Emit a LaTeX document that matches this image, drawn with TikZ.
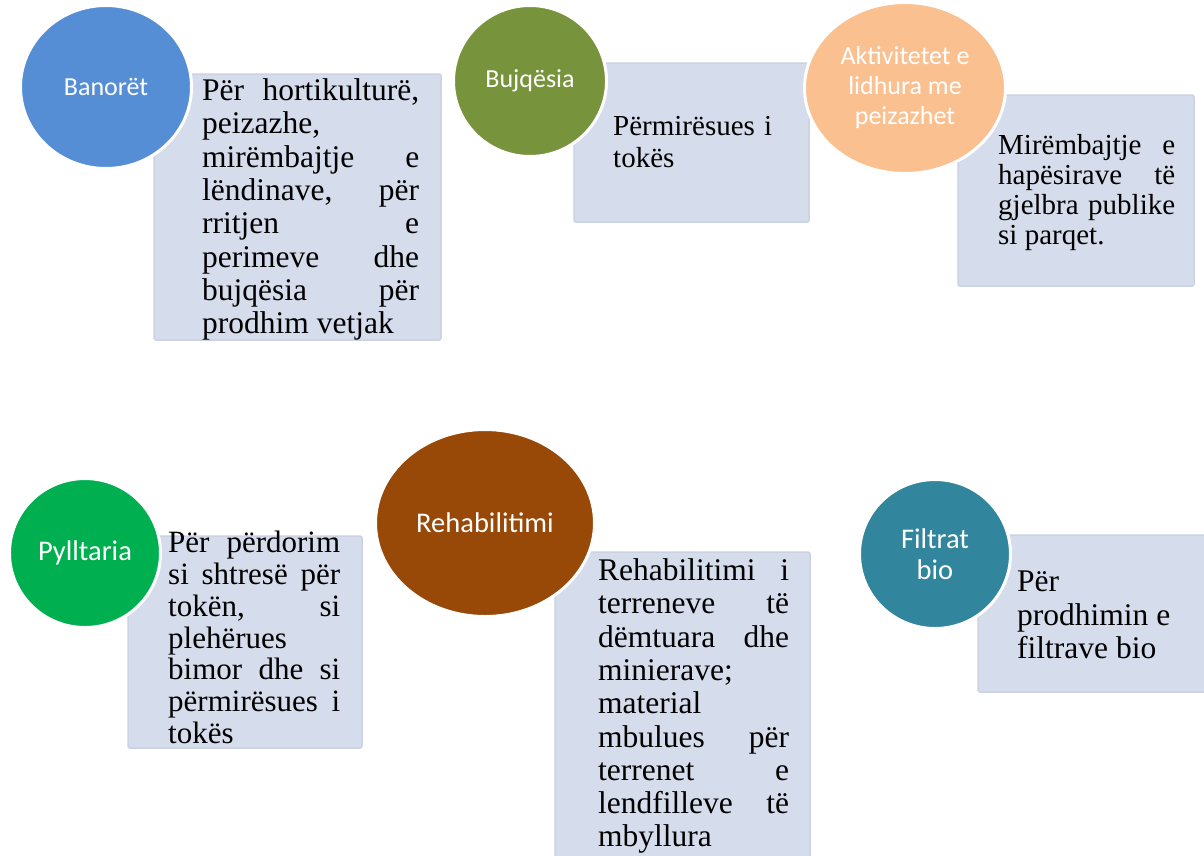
\documentclass[tikz,border=0pt]{standalone}
\usepackage{fontspec}
\setmainfont{Liberation Serif}
\newfontfamily\calib{Carlito}
\usepackage{tikz}
\usetikzlibrary{shapes.geometric}

\definecolor{banblue}{HTML}{558ED5}
\definecolor{bujgreen}{HTML}{77933C}
\definecolor{aktpeach}{HTML}{FAC090}
\definecolor{pylgreen}{HTML}{00B050}
\definecolor{rehbrown}{HTML}{984807}
\definecolor{filteal}{HTML}{31859C}
\definecolor{panelfill}{HTML}{D5DCEB}
\definecolor{paneledge}{HTML}{CAD2E4}

\newcommand{\jl}[1]{\makebox[\hsize][s]{\spaceskip=0pt\relax #1}}
\newcommand{\circfont}{\calib\fontsize{26}{30}\selectfont}
\newcommand{\circfontb}{\calib\fontsize{28.5}{31.5}\selectfont}
\newcommand{\txtfont}{\fontsize{31.5}{33.3}\selectfont}

\begin{document}
\begin{tikzpicture}[x=1pt,y=-1pt,
	sector/.style={ellipse,draw=white,line width=3pt,inner sep=0pt,text=white,align=center,font=\circfont},
	panel/.style={fill=panelfill,draw=paneledge,line width=1.5pt,rounded corners=2pt},
	desc/.style={anchor=north west,inner sep=0pt,align=justify,font=\txtfont}]
\useasboundingbox (0,0) rectangle (1204,855);

% panels behind the circles
\foreach \xa/\ya/\xb/\yb in {154/74/441/340, 574/63/809/222, 958/95/1194/286, 128/536/362/748, 555/552/810/870, 978/535/1215/692}
	\draw[panel] (\xa,\ya) rectangle (\xb,\yb);

\node[desc,text width=217] (horti) at (202,78.5) {\jl{Për hortikulturë,}\\ peizazhe,\\ \jl{mirëmbajtje e}\\ \jl{lëndinave, për}\\ \jl{rritjen e}\\ \jl{perimeve dhe}\\ \jl{bujqësia për}\\ prodhim vetjak};
\node[desc,text width=159,font={\fontsize{29}{32}\selectfont}] (permir) at (613,116) {\jl{Përmirësues i}\\ tokës};
\node[desc,text width=177,font={\fontsize{29}{30}\selectfont}] (mirem) at (998,134) {\jl{Mirëmbajtje e}\\ \jl{hapësirave të}\\ \jl{gjelbra publike}\\ si parqet.};
\node[desc,text width=172,font={\fontsize{31}{31.8}\selectfont}] (perdor) at (168,531) {\jl{Për përdorim}\\ \jl{si shtresë për}\\ \jl{tokën, si}\\ plehërues\\ \jl{bimor dhe si}\\ \jl{përmirësues i}\\ tokës};
\node[desc,text width=191] (rehab) at (598,558.5) {\jl{Rehabilitimi i}\\ \jl{terreneve të}\\ \jl{dëmtuara dhe}\\ minierave;\\ material\\ \jl{mbulues për}\\ \jl{terrenet e}\\ \jl{lendfilleve të}\\ mbyllura};
\node[desc,text width=160] (prodh) at (1017,571) {Për\\ prodhimin e\\ filtrave bio};

% circles
\node[sector,fill=banblue,minimum width=171,minimum height=163] (banoret) at (106,87) {Banorët};
\node[sector,fill=bujgreen,minimum width=153,minimum height=151] (bujqesia) at (530,81) {Bujqësia};
\node[sector,fill=aktpeach,minimum width=201,minimum height=171] (aktiv) at (905,88) {Aktivitetet e\\lidhura me\\peizazhet};
\node[sector,fill=pylgreen,minimum width=151,minimum height=149,font=\circfontb] (pyll) at (85,553) {Pylltaria};
\node[sector,fill=rehbrown,minimum width=219,minimum height=187,font=\circfontb] (rehabc) at (485,523) {Rehabilitimi};
\node[sector,fill=filteal,minimum width=151,minimum height=149,font=\circfontb] (filtrat) at (935,554) {Filtrat\\bio};

\end{tikzpicture}
\end{document}
